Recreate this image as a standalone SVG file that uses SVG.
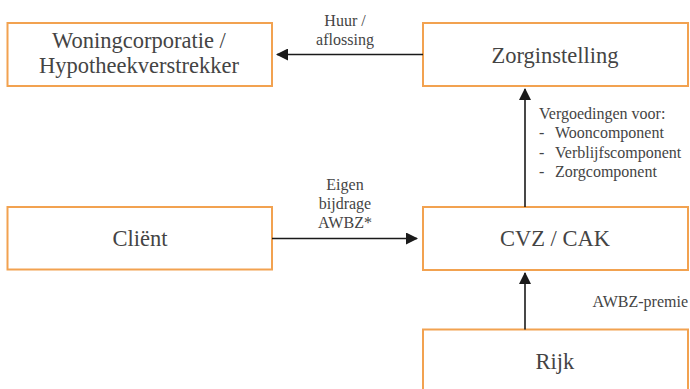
<svg xmlns="http://www.w3.org/2000/svg" width="690" height="389" viewBox="0 0 690 389">
<style>
.box{fill:#fff;stroke:#f2a250;stroke-width:2}
.main{font-family:"Liberation Serif",serif;font-size:22.5px;fill:#444;text-anchor:middle}
.lbl{font-family:"Liberation Serif",serif;font-size:16px;fill:#444}
.c{text-anchor:middle}
.edge{stroke:#1a1a1a;stroke-width:1.6;fill:none;marker-end:url(#ah)}
</style>
<defs>
<marker id="ah" viewBox="0 0 12 12" refX="11" refY="6" markerWidth="12" markerHeight="12" markerUnits="userSpaceOnUse" orient="auto">
<path d="M0,0 L12,6 L0,12 Z" fill="#1a1a1a"/>
</marker>
</defs>
<rect width="690" height="389" fill="#fff"/>
<g id="woningcorporatie">
<rect class="box" x="7.5" y="23" width="264.5" height="63"/>
<text class="main" x="139" y="48">Woningcorporatie /</text>
<text class="main" x="139" y="73">Hypotheekverstrekker</text>
</g>
<g id="zorginstelling">
<rect class="box" x="423" y="23" width="265" height="63"/>
<text class="main" x="555" y="63">Zorginstelling</text>
</g>
<g id="client">
<rect class="box" x="7.5" y="207" width="264.5" height="62.5"/>
<text class="main" x="140" y="246">Cliënt</text>
</g>
<g id="cvz">
<rect class="box" x="423" y="207" width="265" height="63"/>
<text class="main" x="555" y="246">CVZ / CAK</text>
</g>
<g id="rijk">
<rect class="box" x="423" y="329.5" width="265" height="70"/>
<text class="main" x="555" y="369">Rijk</text>
</g>
<g id="connectors">
<line class="edge" x1="423" y1="54.5" x2="277" y2="54.5"/>
<text class="lbl c" x="345" y="26">Huur /</text>
<text class="lbl c" x="345" y="45">aflossing</text>
<line class="edge" x1="272" y1="238.5" x2="417" y2="238.5"/>
<text class="lbl c" x="345" y="190">Eigen</text>
<text class="lbl c" x="345" y="209">bijdrage</text>
<text class="lbl c" x="345" y="228">AWBZ*</text>
<line class="edge" x1="525" y1="207" x2="525" y2="89"/>
<text class="lbl" x="539" y="119">Vergoedingen voor:</text>
<text class="lbl" x="539" y="138">-</text><text class="lbl" x="555" y="138">Wooncomponent</text>
<text class="lbl" x="539" y="158">-</text><text class="lbl" x="555" y="158">Verblijfscomponent</text>
<text class="lbl" x="539" y="177">-</text><text class="lbl" x="555" y="177">Zorgcomponent</text>
<line class="edge" x1="525" y1="329.5" x2="525" y2="273"/>
<text class="lbl" x="688" y="306.5" text-anchor="end">AWBZ-premie</text>
</g>
</svg>
